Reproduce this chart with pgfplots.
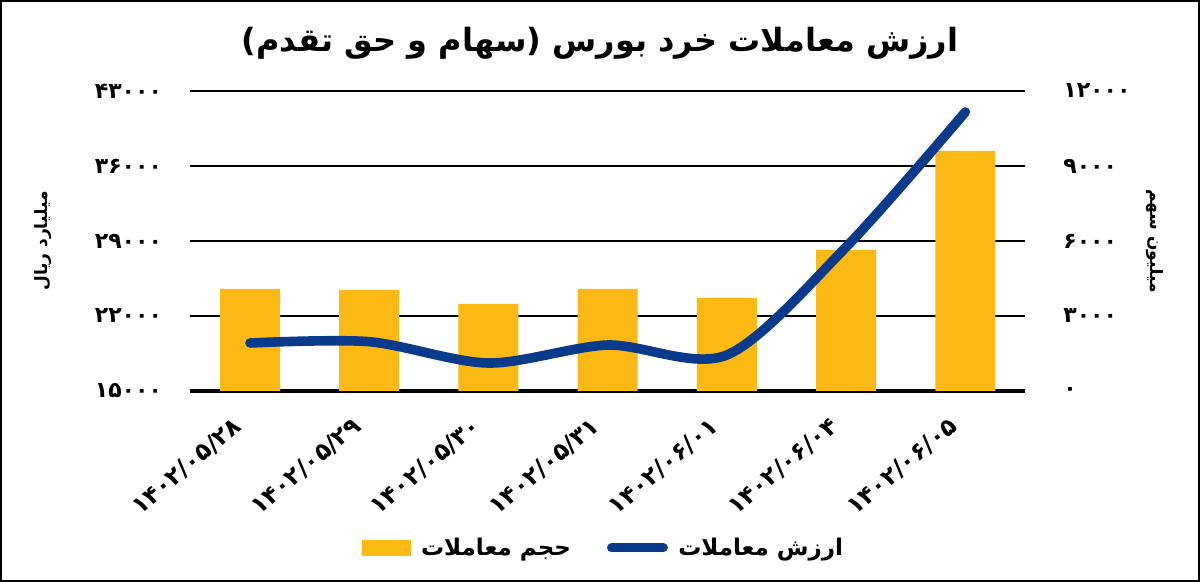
\documentclass[border=0pt]{standalone}
\usepackage{pgfplots}
\pgfplotsset{compat=1.18}
\usepackage{fontspec}
\setmainfont{DejaVu Sans}
\newfontfamily\fa[Script=Arabic]{DejaVu Sans}
\TeXXeTstate=1
\definecolor{barcol}{RGB}{253,185,19}
\definecolor{linecol}{RGB}{10,58,140}
\begin{document}
\begin{tikzpicture}
\useasboundingbox (-95.2pt,-95.5pt) rectangle (504.8pt,195.5pt);
\draw[black, line width=1pt] (-94.7pt,-95pt) rectangle (504.3pt,195pt);
% bars: volume (right axis)
\begin{axis}[
  at={(0pt,0pt)}, anchor=south west,
  scale only axis, width=417.3pt, height=150pt,
  xmin=-0.5, xmax=6.5, ymin=0, ymax=12000,
  scaled y ticks=false,
  axis y line*=right, axis x line*=bottom,
  y axis line style={draw=none},
  x axis line style={line width=1.8pt,-},
  major tick length=0pt,
  ymajorgrids, grid style={black, line width=0.6pt},
  ytick={0,3000,6000,9000,12000},
  yticklabels={۰,۳۰۰۰,۶۰۰۰,۹۰۰۰,۱۲۰۰۰},
  yticklabel style={font=\fa\bfseries\fontsize{11}{11}\selectfont, inner sep=0pt, anchor=west, xshift=19pt},
  xtick={0,1,2,3,4,5,6},
  xticklabels={۱۴۰۲/۰۵/۲۸,۱۴۰۲/۰۵/۲۹,۱۴۰۲/۰۵/۳۰,۱۴۰۲/۰۵/۳۱,۱۴۰۲/۰۶/۰۱,۱۴۰۲/۰۶/۰۴,۱۴۰۲/۰۶/۰۵},
  xticklabel style={font=\fa\bfseries\fontsize{12}{12}\selectfont, xshift=-9pt, yshift=-12pt, rotate=40, anchor=north east, inner sep=0pt},
  every axis y label/.style={at={(axis description cs:1.156,0.5)}, rotate=-90, anchor=center, font=\fa\bfseries\fontsize{8.5}{8.5}\selectfont},
  ylabel={\beginR میلیون سهم\endR},
  clip=false,
]
\addplot[ybar, bar width=30pt, fill=barcol, draw=none, bar shift=0pt]
  coordinates {(0,4080) (1,4040) (2,3480) (3,4080) (4,3720) (5,5640) (6,9600)};
\end{axis}
% line: value (left axis)
\begin{axis}[
  at={(0pt,0pt)}, anchor=south west,
  scale only axis, width=417.3pt, height=150pt,
  xmin=-0.5, xmax=6.5, ymin=15000, ymax=43000,
  scaled y ticks=false,
  axis y line*=left, axis x line=none,
  y axis line style={draw=none},
  major tick length=0pt,
  ytick={15000,22000,29000,36000,43000},
  yticklabels={۱۵۰۰۰,۲۲۰۰۰,۲۹۰۰۰,۳۶۰۰۰,۴۳۰۰۰},
  yticklabel style={font=\fa\bfseries\fontsize{11}{11}\selectfont, inner sep=0pt, anchor=east, xshift=-14pt},
  every axis y label/.style={at={(axis description cs:-0.176,0.5)}, rotate=90, anchor=center, font=\fa\bfseries\fontsize{8.5}{8.5}\selectfont},
  ylabel={\beginR میلیارد ریال\endR},
  title={\beginR ارزش معاملات خرد بورس (سهام و حق تقدم)\endR},
  title style={at={(axis description cs:0.4908,1.12)}, anchor=center, yshift=0pt, font=\fa\bfseries\fontsize{16}{16}\selectfont},
  legend columns=2,
  legend style={at={(axis description cs:0.4964,-0.523)}, anchor=center, draw=none, fill=none,
    font=\fa\bfseries\fontsize{11.5}{11.5}\selectfont,
    /tikz/every even column/.append style={column sep=16pt}},
  clip=false,
]
\addlegendimage{legend image code/.code={\fill[barcol] (0pt,-3.75pt) rectangle (24pt,3.75pt); \path (27pt,0pt);}}
\addlegendentry{\beginR حجم معاملات\endR}
\addplot[smooth, color=linecol, line width=4.8pt, line cap=round,
  legend image code/.code={\draw[linecol, line width=4.5pt, line cap=round] (2pt,0pt) -- (28pt,0pt); \path (31pt,0pt);}]
  coordinates {(0,19480) (1,19600) (2,17613) (3,19290) (4,18360) (5,28440) (6,41040)};
\addlegendentry{\beginR ارزش معاملات\endR}
\end{axis}
\end{tikzpicture}
\end{document}
